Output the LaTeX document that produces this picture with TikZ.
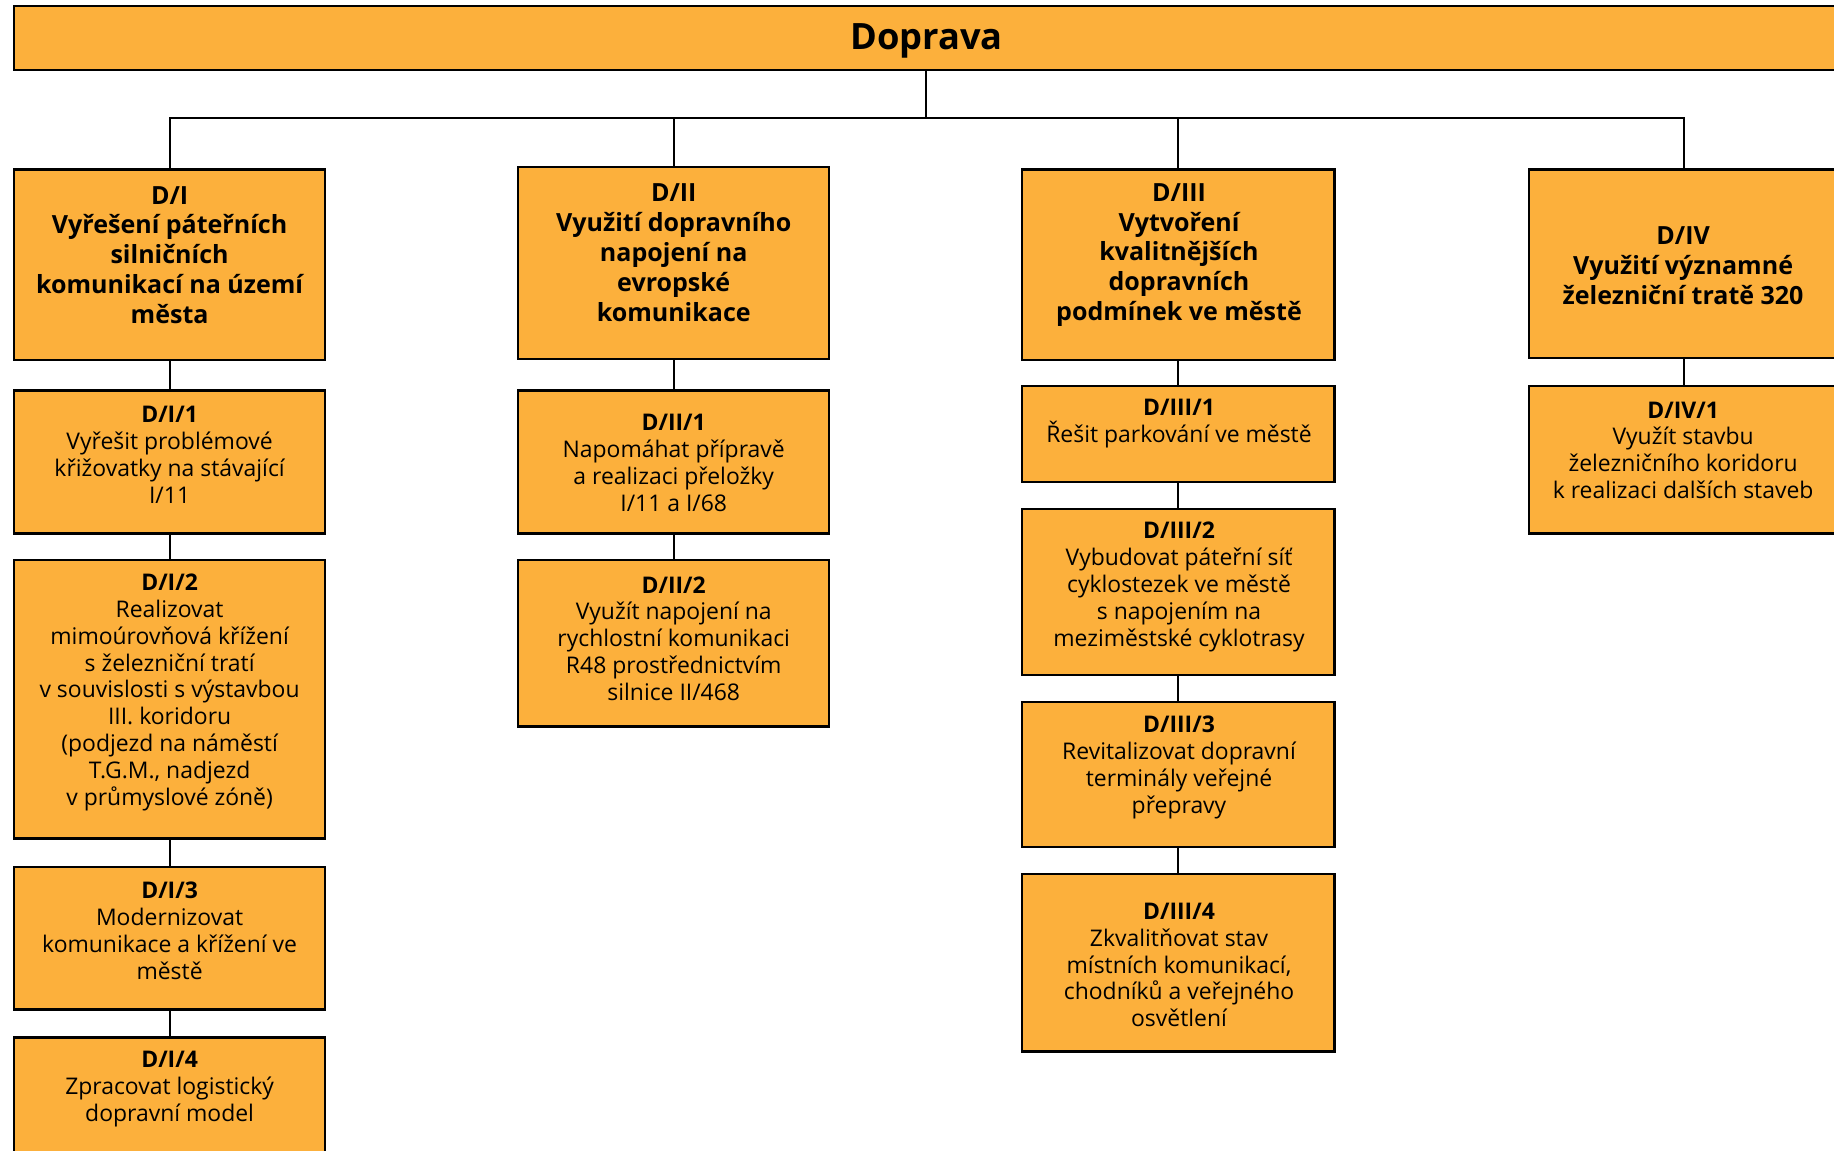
\documentclass[tikz,border=0pt]{standalone}
\usepackage{fontspec}
\setmainfont{Open Sans}
\usetikzlibrary{fit}
\definecolor{boxfill}{RGB}{252,176,60}
\begin{document}
\begin{tikzpicture}[x=0.5pt,y=-0.5pt,
  box/.style={draw=black, line width=1pt, fill=boxfill, inner sep=0pt},
  txt/.style={align=center, font=\fontsize{9.8}{11.5}\selectfont, inner sep=0pt},
  head/.style={align=center, font=\bfseries\fontsize{10.7}{12.75}\selectfont, inner sep=0pt},
  link/.style={draw=black, line width=0.9pt}]
\useasboundingbox (0,0) rectangle (1568,984);
\clip (0,0) rectangle (1568,984);

% top bar
\node[box, fit={(12,5) (1572,60)}] (dop) {};
\node[font=\bfseries\fontsize{15.5}{18}\selectfont, inner sep=0pt] (dopt) at (792,35) {Doprava};

% column 1
\node[box, fit={(12,145) (278,308)}] (DI) {};
\node[box, fit={(12,334) (278,456)}] (DI1) {};
\node[box, fit={(12,479) (278,717)}] (DI2) {};
\node[box, fit={(12,741) (278,863)}] (DI3) {};
\node[box, fit={(12,887) (278,1010)}] (DI4) {};
% column 2
\node[box, fit={(443,143) (709,307)}] (DII) {};
\node[box, fit={(443,334) (709,456)}] (DII1) {};
\node[box, fit={(443,479) (709,621)}] (DII2) {};
% column 3
\node[box, fit={(874,145) (1141,308)}] (DIII) {};
\node[box, fit={(874,330) (1141,412)}] (DIII1) {};
\node[box, fit={(874,435) (1141,577)}] (DIII2) {};
\node[box, fit={(874,600) (1141,724)}] (DIII3) {};
\node[box, fit={(874,747) (1141,899)}] (DIII4) {};
% column 4
\node[box, fit={(1307,145) (1572,306)}] (DIV) {};
\node[box, fit={(1307,330) (1572,456)}] (DIV1) {};

% connectors
\coordinate (bus) at (792,101);
\draw[link] (dop.south) -- (bus);
\draw[link] (DI.north) -- (DI.north |- bus) -- (DIV.north |- bus) -- (DIV.north);
\draw[link] (DII.north) -- (DII.north |- bus);
\draw[link] (DIII.north) -- (DIII.north |- bus);
\draw[link] (DI.south) -- (DI1.north);
\draw[link] (DI1.south) -- (DI2.north);
\draw[link] (DI2.south) -- (DI3.north);
\draw[link] (DI3.south) -- (DI4.north);
\draw[link] (DII.south) -- (DII1.north);
\draw[link] (DII1.south) -- (DII2.north);
\draw[link] (DIII.south) -- (DIII1.north);
\draw[link] (DIII1.south) -- (DIII2.north);
\draw[link] (DIII2.south) -- (DIII3.north);
\draw[link] (DIII3.south) -- (DIII4.north);
\draw[link] (DIV.south) -- (DIV1.north);

% texts
\node[head] (DIt) at (145,218) {D/I\\Vyřešení páteřních\\silničních\\komunikací na území\\města};
\node[txt] (DI1t) at (145,389) {\textbf{D/I/1}\\Vyřešit problémové\\křižovatky na stávající\\I/11};
\node[txt] (DI2t) at (145,592) {\textbf{D/I/2}\\Realizovat\\mimoúrovňová křížení\\s železniční tratí\\v souvislosti s výstavbou\\III. koridoru\\(podjezd na náměstí\\T.G.M., nadjezd\\v průmyslové zóně)};
\node[txt] (DI3t) at (145,796) {\textbf{D/I/3}\\Modernizovat\\komunikace a křížení ve\\městě};
\node[txt] (DI4t) at (145,931) {\textbf{D/I/4}\\Zpracovat logistický\\dopravní model};

\node[head] (DIIt) at (576,216) {D/II\\Využití dopravního\\napojení na\\evropské\\komunikace};
\node[txt] (DII1t) at (576,396) {\textbf{D/II/1}\\Napomáhat přípravě\\a realizaci přeložky\\I/11 a I/68};
\node[txt] (DII2t) at (576,546) {\textbf{D/II/2}\\Využít napojení na\\rychlostní komunikaci\\R48 prostřednictvím\\silnice II/468};

\node[head] (DIIIt) at (1008,218) {D/III\\Vytvoření\\kvalitnějších\\dopravních\\podmínek ve městě};
\node[txt] (DIII1t) at (1008,362) {\textbf{D/III/1}\\Řešit parkování ve městě};
\node[txt] (DIII2t) at (1008,502) {\textbf{D/III/2}\\Vybudovat páteřní síť\\cyklostezek ve městě\\s napojením na\\meziměstské cyklotrasy};
\node[txt] (DIII3t) at (1008,656) {\textbf{D/III/3}\\Revitalizovat dopravní\\terminály veřejné\\přepravy};
\node[txt] (DIII4t) at (1008,825) {\textbf{D/III/4}\\Zkvalitňovat stav\\místních komunikací,\\chodníků a veřejného\\osvětlení};

\node[head] (DIVt) at (1439,227) {D/IV\\Využití významné\\železniční tratě 320};
\node[txt] (DIV1t) at (1439,385) {\textbf{D/IV/1}\\Využít stavbu\\železničního koridoru\\k realizaci dalších staveb};
\end{tikzpicture}
\end{document}
